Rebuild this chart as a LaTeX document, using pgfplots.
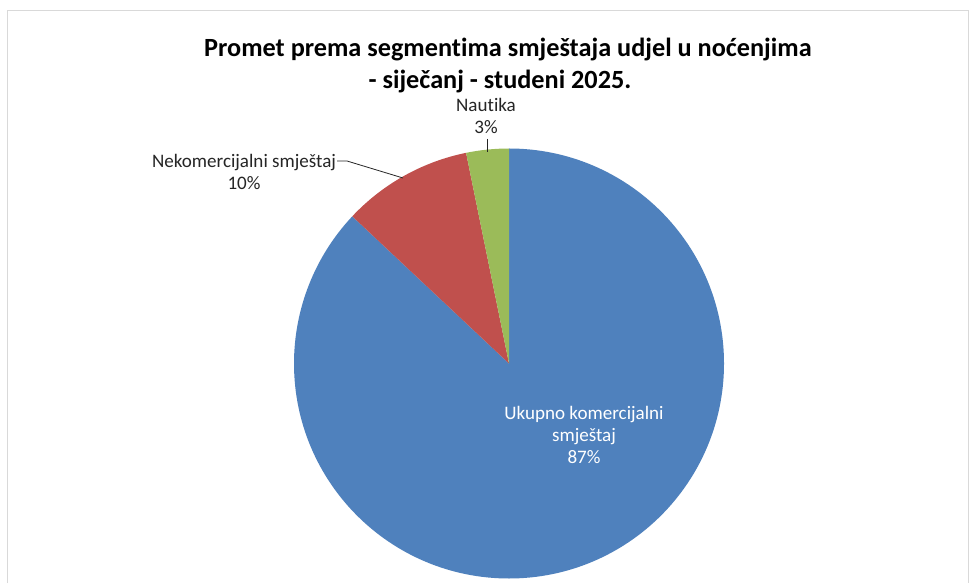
\documentclass[border=0pt]{standalone}
\usepackage{pgfplots}
\pgfplotsset{compat=1.18}
\usepackage{pgfplotstable}
\usepackage{fontspec}
\setmainfont{Carlito}[Ligatures={NoCommon}]
\definecolor{cblue}{HTML}{4F81BD}
\definecolor{cred}{HTML}{C0504D}
\definecolor{cgreen}{HTML}{9BBB59}
\definecolor{ctext}{HTML}{262626}
\pgfplotstableread{
name value
Ukupno 87.0
Nekom 9.8
Nautika 3.2
}\pietable
\begin{document}
\begin{tikzpicture}
\pgfplotstablegetelem{0}{value}\of\pietable \let\va\pgfplotsretval
\pgfplotstablegetelem{1}{value}\of\pietable \let\vb\pgfplotsretval
\pgfplotstablegetelem{2}{value}\of\pietable \let\vc\pgfplotsretval
\pgfmathsetmacro\aA{90}
\pgfmathsetmacro\aB{90-3.6*\va}
\pgfmathsetmacro\aC{\aB-3.6*\vb}
\pgfmathsetmacro\aD{\aC-3.6*\vc}
\begin{axis}[scale only axis, width=735pt, height=437.25pt,
  xmin=0, xmax=980, ymin=0, ymax=583, hide axis, clip=false]
\fill[white] (axis cs:0,0) rectangle (axis cs:980,583);
\draw[black!15, line width=0.75pt] (axis cs:7,0) -- (axis cs:7,572) -- (axis cs:968,572) -- (axis cs:968,0);
\fill[cblue] (axis cs:509,219.5) -- ++(\aA:161.25pt) arc[start angle=\aA, end angle=\aB, radius=161.25pt] -- cycle;
\fill[cred] (axis cs:509,219.5) -- ++(\aB:161.25pt) arc[start angle=\aB, end angle=\aC, radius=161.25pt] -- cycle;
\fill[cgreen] (axis cs:509,219.5) -- ++(\aC:161.25pt) arc[start angle=\aC, end angle=\aD, radius=161.25pt] -- cycle;
\node[font=\fontsize{19.7}{24}\selectfont\bfseries, inner sep=0] at (axis cs:508,533) {Promet prema segmentima smještaja udjel u noćenjima};
\node[font=\fontsize{19.7}{24}\selectfont\bfseries, inner sep=0] at (axis cs:500,501) {- siječanj - studeni 2025.};
\node[font=\fontsize{14.3}{16.5}\selectfont, text=ctext, align=center, inner sep=0] at (axis cs:486,467) {Nautika\\3\%};
\node[font=\fontsize{14.3}{16.5}\selectfont, text=ctext, align=center, inner sep=0] at (axis cs:244,411.5) {Nekomercijalni smještaj\\10\%};
\node[font=\fontsize{14.3}{16.5}\selectfont, text=white, align=center, inner sep=0] at (axis cs:584,148) {Ukupno komercijalni\\smještaj\\87\%};
\draw[black!85, line width=0.6pt] (axis cs:337,422) -- (axis cs:347,422) -- (axis cs:403,405);
\draw[black!85, line width=0.6pt] (axis cs:487,444) -- (axis cs:487,431);
\end{axis}
\end{tikzpicture}
\end{document}
